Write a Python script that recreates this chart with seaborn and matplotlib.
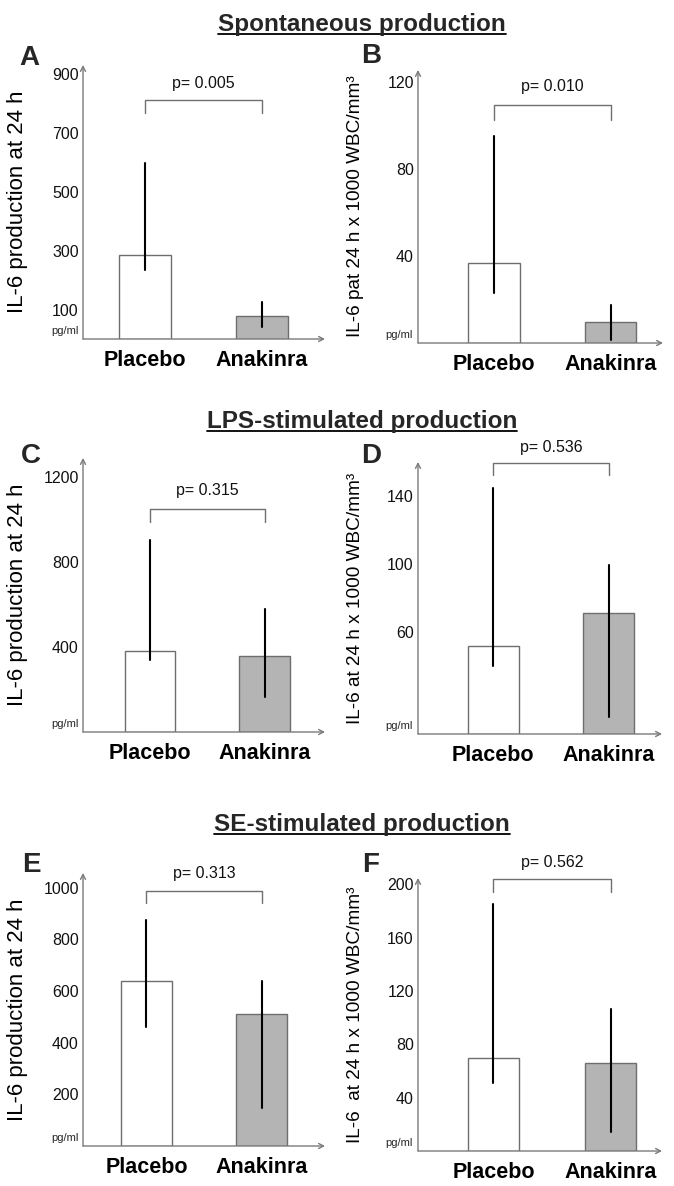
import pandas as pd
import numpy as np
import matplotlib
matplotlib.use('Agg')
import matplotlib.pyplot as plt
import seaborn as sns
from matplotlib.lines import Line2D

groups = ['Placebo', 'Anakinra']

# median, low and high end of the range bar for each group
a_median = [286, 78]
a_low = [235, 41]
a_high = [599, 126]

b_median = [36.8, 9.7]
b_low = [23.0, 1.4]
b_high = [95.3, 17.5]

c_median = [381, 357]
c_low = [339, 165]
c_high = [903, 578]

d_median = [51.8, 71.3]
d_low = [40.0, 10.0]
d_high = [144.9, 99.5]

e_median = [639, 511]
e_low = [461, 147]
e_high = [875, 639]

f_median = [69.8, 66.0]
f_low = [51.0, 14.3]
f_high = [185.3, 106.5]

p_values = ['0.005', '0.010', '0.315', '0.536', '0.313', '0.562']

a_ticks = [100, 300, 500, 700, 900]
b_ticks = [40, 80, 120]
c_ticks = [400, 800, 1200]
d_ticks = [60, 100, 140]
e_ticks = [200, 400, 600, 800, 1000]
f_ticks = [40, 80, 120, 160, 200]

titles = ['Spontaneous production', 'LPS-stimulated production', 'SE-stimulated production']
ylabels = ['IL-6 production at 24 h', 'IL-6 pat 24 h x 1000 WBC/mm³',
           'IL-6 production at 24 h', 'IL-6 at 24 h x 1000 WBC/mm³',
           'IL-6 production at 24 h', 'IL-6  at 24 h x 1000 WBC/mm³']

panels = [
    ('A', a_median, a_low, a_high, a_ticks),
    ('B', b_median, b_low, b_high, b_ticks),
    ('C', c_median, c_low, c_high, c_ticks),
    ('D', d_median, d_low, d_high, d_ticks),
    ('E', e_median, e_low, e_high, e_ticks),
    ('F', f_median, f_low, f_high, f_ticks),
]

# layout (pixels): axes box (left, top, right, bottom), y max, bracket top/legs, p-text y, letter pos
layout = {
    'A': dict(box=(83, 65, 325, 339), ytop=932, xlim=(-0.53, 1.54), br=(0.872, 0.825), pt=0.934, letter=(19, 65)),
    'B': dict(box=(418, 70, 663, 343), ytop=125.7, xlim=(-0.65, 1.45), br=(0.872, 0.817), pt=0.938, letter=(361, 63)),
    'C': dict(box=(83, 458, 325, 732), ytop=1288, xlim=(-0.59, 1.53), br=(0.814, 0.766), pt=0.883, letter=(21, 463)),
    'D': dict(box=(418, 462, 662, 734), ytop=160.2, xlim=(-0.65, 1.46), br=(0.996, 0.952), pt=1.055, letter=(361, 463)),
    'E': dict(box=(83, 873, 325, 1146), ytop=1057, xlim=(-0.55, 1.55), br=(0.934, 0.890), pt=1.0, letter=(22, 872)),
    'F': dict(box=(418, 878, 662, 1151), ytop=204.8, xlim=(-0.645, 1.44), br=(0.996, 0.949), pt=1.055, letter=(362, 872)),
}
title_y = [31, 428, 831]

sns.set_style('white')
plt.rcParams['font.family'] = ['Liberation Sans', 'DejaVu Sans']

W, H = 674, 1186
fig = plt.figure(figsize=(W / 100, H / 100), dpi=100)


def rect(l, t, r, b):
    return [l / W, 1 - b / H, (r - l) / W, (b - t) / H]


bar_colors = {'Placebo': 'white', 'Anakinra': '#b4b4b4'}

for i, (name, med, low, high, ticks) in enumerate(panels):
    lay = layout[name]
    ax = fig.add_axes(rect(*lay['box']))
    df = pd.DataFrame({'group': groups * 3, 'value': med + low + high})
    sns.barplot(data=df, x='group', y='value', hue='group', order=groups, hue_order=groups,
                palette=bar_colors, estimator='median', errorbar=('pi', 100), width=0.44,
                edgecolor='#6e6e6e', linewidth=1.0, err_kws={'color': 'black', 'linewidth': 1.5},
                legend=False, ax=ax)
    ax.set_xlim(*lay['xlim'])
    ax.set_ylim(0, lay['ytop'])
    ax.set_yticks(ticks)
    ax.set_xlabel('')
    left_col = name in 'ACE'
    ax.set_ylabel(ylabels[i], fontsize=16 if left_col else 13.7, color='black')
    ax.yaxis.set_label_coords(-0.269 if left_col else -0.257, 0.5)
    ax.yaxis.label.set_va('center')
    ax.tick_params(axis='y', length=0, pad=3, labelsize=11.5, labelcolor='#111111')
    ax.tick_params(axis='x', length=0, pad=8, labelsize=15.5, labelcolor='black')
    for lbl in ax.get_xticklabels():
        lbl.set_fontweight('bold')
    sns.despine(ax=ax, left=True, bottom=True)

    # axis lines with arrow heads
    arrow = dict(arrowstyle='->,head_length=0.35,head_width=0.18', color='#7a7a7a', lw=1.0,
                 shrinkA=0, shrinkB=0)
    ax.annotate('', xy=(0, 1), xytext=(0, 0), xycoords='axes fraction', arrowprops=arrow)
    ax.annotate('', xy=(1, 0), xytext=(0, 0), xycoords='axes fraction', arrowprops=arrow)

    # significance bracket
    top, legs = lay['br']
    ax.plot([0, 0, 1, 1], [legs, top, top, legs], transform=ax.get_xaxis_transform(),
            color='#707070', lw=1.0, clip_on=False)
    ax.text(0.5, lay['pt'], 'p= ' + p_values[i], transform=ax.get_xaxis_transform(),
            ha='center', va='center', fontsize=11.5, color='#111111')
    ax.text(-0.02, 0.03, 'pg/ml', transform=ax.transAxes, ha='right', va='center', fontsize=8)

    lx, ly = lay['letter']
    fig.text(lx / W, 1 - ly / H, name, ha='left', va='baseline', fontsize=20, fontweight='bold')

# underlined section titles
title_texts = []
for t, y in zip(titles, title_y):
    title_texts.append(fig.text(362 / W, 1 - y / H, t, ha='center', va='baseline',
                                fontsize=17.5, fontweight='bold'))
fig.canvas.draw()
for txt, y in zip(title_texts, title_y):
    bb = txt.get_window_extent()
    fig.add_artist(Line2D([bb.x0 / W, bb.x1 / W], [1 - (y + 3) / H] * 2,
                          transform=fig.transFigure, color='black', lw=1.3))

fig.savefig('out.png', dpi=100)
